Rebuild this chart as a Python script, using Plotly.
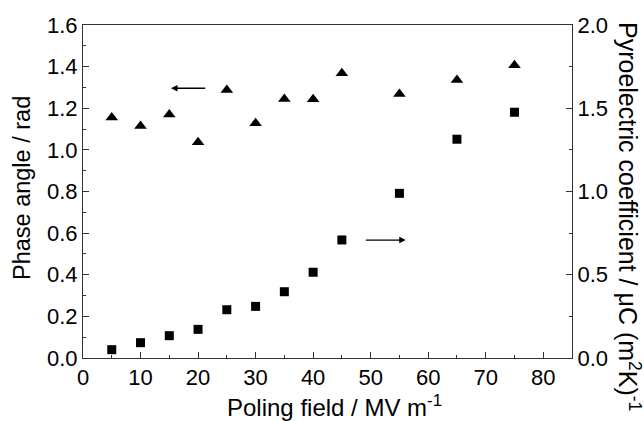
import plotly.graph_objects as go

# Data
poling_field = [5, 10, 15, 20, 25, 30, 35, 40, 45, 55, 65, 75]
phase_angle = [1.155, 1.115, 1.17, 1.037, 1.288, 1.128, 1.245, 1.243, 1.368, 1.269, 1.336, 1.407]
pyro_coeff = [0.05, 0.092, 0.134, 0.172, 0.29, 0.31, 0.398, 0.515, 0.709, 0.989, 1.314, 1.476]

x_ticks = [0, 10, 20, 30, 40, 50, 60, 70, 80]

FONT = "Liberation Sans, Arial, sans-serif"
TICK_SIZE = 22
TITLE_SIZE = 24
LINE = "#333333"

fig = go.Figure()
fig.add_trace(go.Scatter(
    x=poling_field, y=phase_angle, mode="markers",
    marker=dict(symbol="triangle-up", size=11, color="black"),
    yaxis="y", showlegend=False))
fig.add_trace(go.Scatter(
    x=poling_field, y=pyro_coeff, mode="markers",
    marker=dict(symbol="square", size=9, color="black"),
    yaxis="y2", showlegend=False))

axis_common = dict(
    showgrid=False, zeroline=False, showline=True, linecolor=LINE, linewidth=1,
    ticks="inside", tickcolor=LINE, ticklen=6, tickwidth=1,
    tickfont=dict(family=FONT, size=TICK_SIZE, color="black"),
)

fig.update_layout(
    width=644, height=421,
    margin=dict(l=83, r=72, t=25, b=63),
    paper_bgcolor="white", plot_bgcolor="white",
    font=dict(family=FONT, color="black"),
    xaxis=dict(range=[0, 85], tickvals=x_ticks, mirror=True,
               minor=dict(dtick=5, tick0=0, ticks="inside", ticklen=3, tickcolor=LINE),
               **axis_common),
    yaxis=dict(range=[0, 1.6], dtick=0.2, tickformat=".1f",
               minor=dict(dtick=0.1, ticks="inside", ticklen=3, tickcolor=LINE),
               **axis_common),
    yaxis2=dict(range=[0, 2.0], dtick=0.5, tickformat=".1f", overlaying="y", side="right",
                minor=dict(dtick=0.25, ticks="inside", ticklen=3, tickcolor=LINE),
                **axis_common),
)

annotations = [
    dict(text="Phase angle / rad", xref="paper", yref="paper",
         x=-83/489 + 22/489, y=(358-188)/333, textangle=-90, showarrow=False,
         xanchor="center", yanchor="middle",
         font=dict(family=FONT, size=23.5, color="black")),
    dict(text="Pyroelectric coefficient / μC (m<sup>2</sup>K)<sup>-1</sup>", xref="paper", yref="paper",
         x=1 + (629-572)/489, y=(358-216)/333, textangle=90, showarrow=False,
         xanchor="center", yanchor="middle",
         font=dict(family=FONT, size=25, color="black")),
    dict(text="Poling field / MV m<sup>-1</sup>", xref="paper", yref="paper",
         x=(334-83)/489, y=-(406-358)/333, showarrow=False,
         xanchor="center", yanchor="middle",
         font=dict(family=FONT, size=TITLE_SIZE, color="black")),
    # arrows indicating axes
    dict(x=15.3, y=1.296, ax=21.5, ay=1.296, xref="x", yref="y", axref="x", ayref="y",
         showarrow=True, arrowhead=2, arrowsize=1, arrowwidth=1.3, arrowcolor="black", text=""),
    dict(x=56.1, y=0.708, ax=48.9, ay=0.708, xref="x", yref="y2", axref="x", ayref="y2",
         showarrow=True, arrowhead=2, arrowsize=1, arrowwidth=1.3, arrowcolor="black", text=""),
]
fig.update_layout(annotations=annotations)

fig.write_html("out.html")
